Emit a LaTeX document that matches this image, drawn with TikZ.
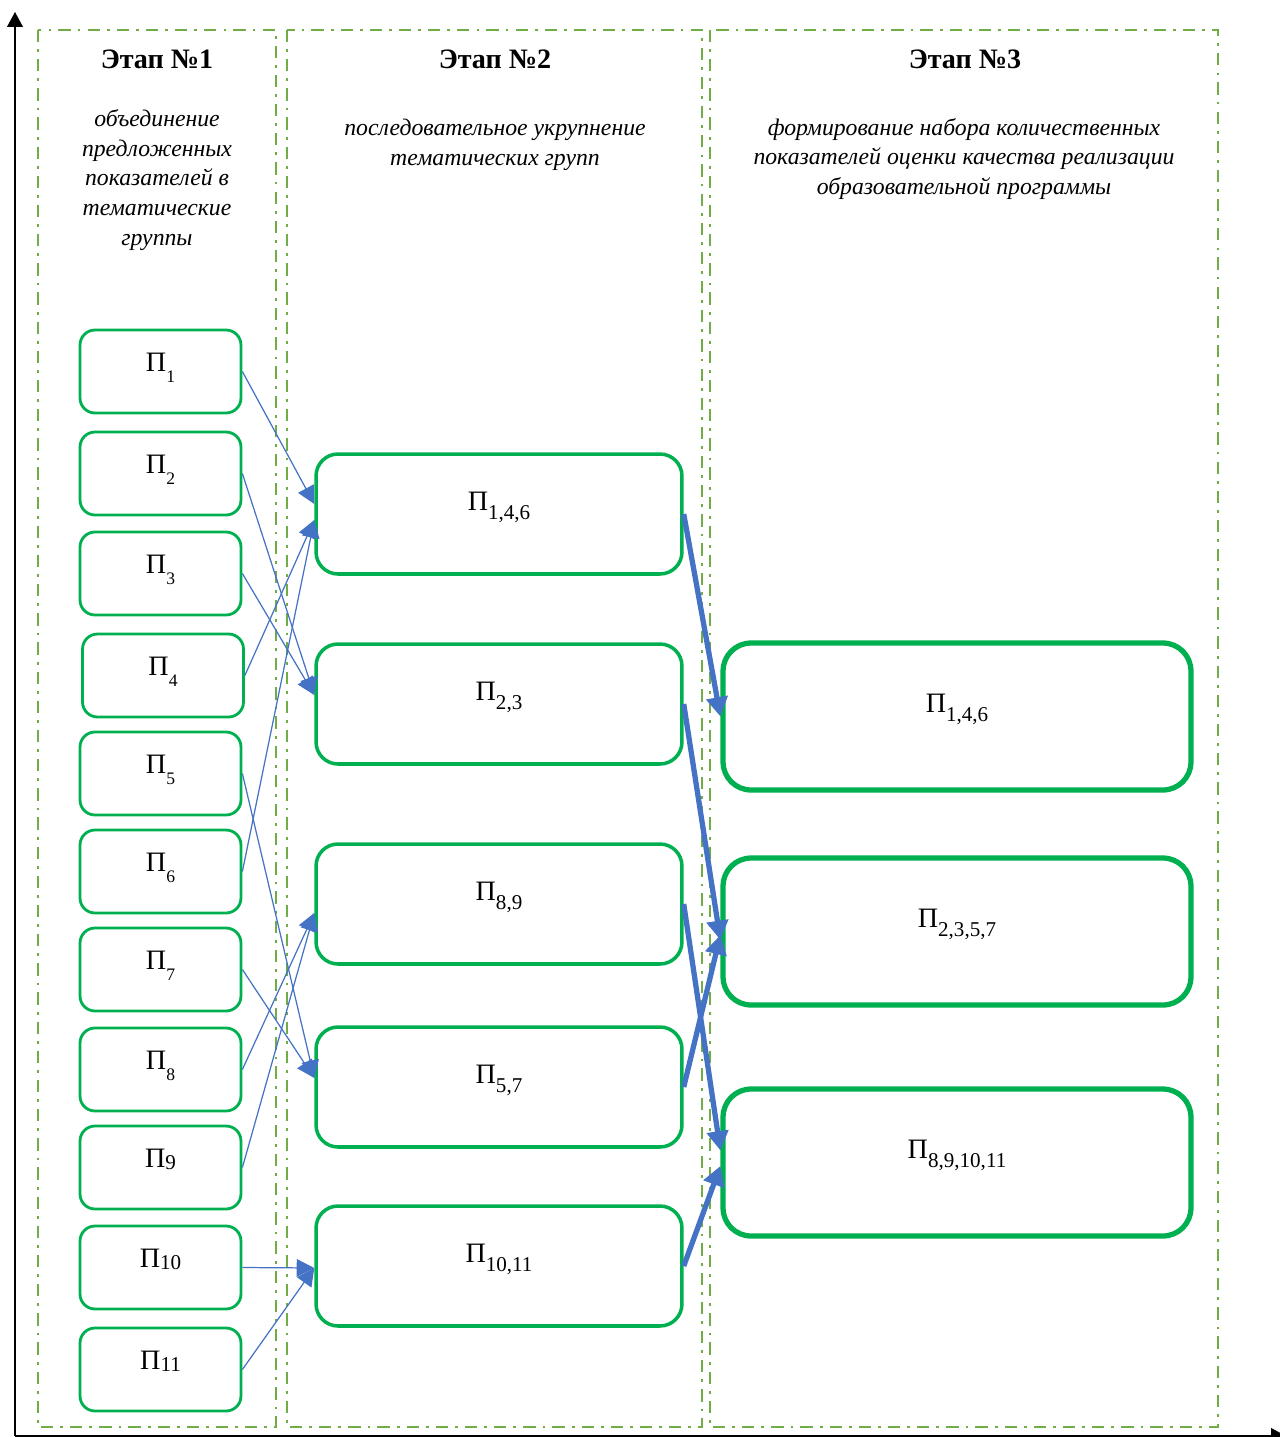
\documentclass[tikz,border=0pt]{standalone}
\usepackage{fontspec}
\setmainfont{Liberation Serif}
\usetikzlibrary{arrows.meta,positioning}
\definecolor{stagegreen}{HTML}{70AD47}
\definecolor{boxgreen}{HTML}{00B050}
\definecolor{linkblue}{HTML}{4472C4}
% subscripts of the indicator labels
\newcommand{\ind}[1]{\raisebox{-6pt}{\fontsize{10}{10}\selectfont #1}}
\newcommand{\indb}[1]{\raisebox{-1pt}{\fontsize{12}{12}\selectfont #1}}
\newcommand{\indc}[1]{\raisebox{-5.5pt}{\fontsize{12}{12}\selectfont #1}}

\begin{document}
\begin{tikzpicture}[x = 0.02cm, y = -0.02cm,
    stage/.style={draw=stagegreen, line width=1.6pt, dash pattern=on 7pt off 4pt on 1.6pt off 4pt},
    head/.style={font=\fontsize{16}{19}\selectfont\bfseries},
    note/.style={font=\fontsize{13.5}{17}\selectfont\itshape, align=center},
    pone/.style={draw=boxgreen, line width=1.6pt, rounded corners=0.3cm, minimum width=3.22cm, minimum height=1.66cm, text height=0.3cm, text depth=0.3cm, font=\fontsize{16}{19}\selectfont},
    ptwo/.style={draw=boxgreen, line width=2pt, rounded corners=0.44cm, minimum width=7.32cm, minimum height=2.4cm, text height=0.4cm, text depth=0.56cm, font=\fontsize{16}{19}\selectfont},
    pthree/.style={draw=boxgreen, line width=3pt, rounded corners=0.56cm, minimum width=9.36cm, minimum height=2.94cm, text height=0.4cm, text depth=0.58cm, font=\fontsize{16}{19}\selectfont},
    feed/.style={draw=linkblue, line width=0.7pt, -{Triangle[length=10pt,width=10pt]}},
    merge/.style={draw=linkblue, line width=3pt, -{Triangle[length=11pt,width=12pt]}}]
        \useasboundingbox (0,0) rectangle (1279,1437);
        % axes
        \draw [line width=0.7pt, -{Triangle[length=8.5pt,width=9pt]}] (15,1436) -- (15,12);
        \draw [line width=0.7pt, -{Triangle[length=8.5pt,width=9pt]}] (15,1436) -- (1286,1436);
        % stages
        \draw [stage] (38,30) rectangle (276,1427);
        \draw [stage] (287,30) rectangle (702,1427);
        \draw [stage] (710,30) rectangle (1218,1427);
        \node [head] (h1) at (157,59) {Этап №1};
        \node [head] (h2) at (495,59) {Этап №2};
        \node [head] (h3) at (965,59) {Этап №3};
        \node [note] (n1) at (157,180) {объединение\\предложенных\\показателей в\\тематические\\группы};
        \node [note] (n2) at (495,145) {последовательное укрупнение\\тематических групп};
        \node [note] (n3) at (964,159) {формирование набора количественных\\показателей оценки качества реализации\\образовательной программы};
        % stage 1
        \node [pone] (p1) at (160.5,371.5) {П\ind{1}};
        \node [pone] (p2) at (160.5,473.5) {П\ind{2}};
        \node [pone] (p3) at (160.5,573.5) {П\ind{3}};
        \node [pone] (p4) at (163,675.5) {П\ind{4}};
        \node [pone] (p5) at (160.5,773.5) {П\ind{5}};
        \node [pone] (p6) at (160.5,871.5) {П\ind{6}};
        \node [pone] (p7) at (160.5,969.5) {П\ind{7}};
        \node [pone] (p8) at (160.5,1069.5) {П\ind{8}};
        \node [pone] (p9) at (160.5,1167.5) {П\indb{9}};
        \node [pone] (p10) at (160.5,1267.5) {П\indb{10}};
        \node [pone] (p11) at (160.5,1369.5) {П\indb{11}};
        % stage 2
        \node [ptwo] (a) at (499,514) {П\indc{1,4,6}};
        \node [ptwo] (b) at (499,704) {П\indc{2,3}};
        \node [ptwo] (c) at (499,904) {П\indc{8,9}};
        \node [ptwo] (d) at (499,1087) {П\indc{5,7}};
        \node [ptwo] (e) at (499,1266) {П\indc{10,11}};
        % stage 3
        \node [pthree] (f) at (957,716.5) {П\indc{1,4,6}};
        \node [pthree] (g) at (957,931.5) {П\indc{2,3,5,7}};
        \node [pthree] (k) at (957,1162.5) {П\indc{8,9,10,11}};
        % links 1 -> 2
        \draw [feed] (p1.east) -- ([yshift=0.2cm]a.west);
        \draw [feed] (p4.east) -- ([yshift=-0.12cm]a.west);
        \draw [feed] (p6.east) -- ([yshift=-0.12cm]a.west);
        \draw [feed] (p2.east) -- ([yshift=0.18cm]b.west);
        \draw [feed] (p3.east) -- ([yshift=0.18cm]b.west);
        \draw [feed] (p8.east) -- ([yshift=-0.18cm]c.west);
        \draw [feed] (p9.east) -- ([yshift=-0.18cm]c.west);
        \draw [feed] (p5.east) -- ([yshift=0.18cm]d.west);
        \draw [feed] (p7.east) -- ([yshift=0.18cm]d.west);
        \draw [feed] (p10.east) -- ([yshift=-0.04cm]e.west);
        \draw [feed] (p11.east) -- ([yshift=-0.04cm]e.west);
        % links 2 -> 3
        \draw [merge] (a.east) -- (f.west);
        \draw [merge] (b.east) -- ([yshift=-0.17cm]g.west);
        \draw [merge] (d.east) -- ([yshift=-0.07cm]g.west);
        \draw [merge] (c.east) -- ([yshift=0.24cm]k.west);
        \draw [merge] (e.east) -- ([yshift=-0.07cm]k.west);
    \end{tikzpicture}
\end{document}
